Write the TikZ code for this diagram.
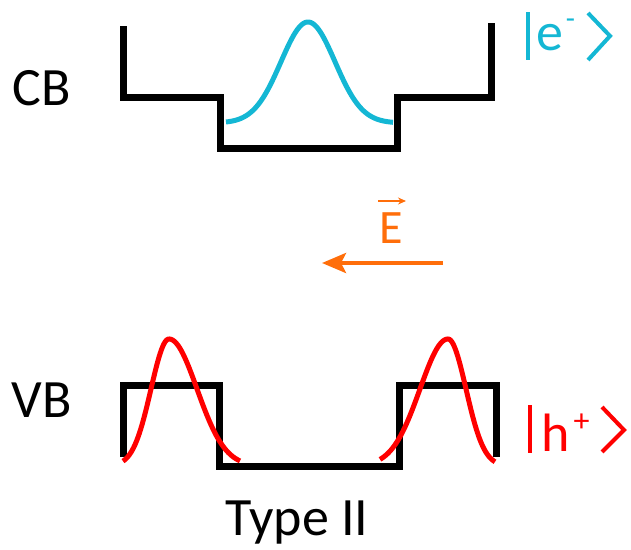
\documentclass[tikz,border=0pt]{standalone}
\usepackage{fontspec}
\setmainfont{Carlito}
\usetikzlibrary{arrows.meta}
\definecolor{ecyan}{RGB}{20,183,212}
\definecolor{eorange}{RGB}{255,110,10}
\definecolor{hred}{RGB}{255,0,0}
\begin{document}
\begin{tikzpicture}[x=1pt,y=-1pt,
  well/.style={line width=7pt, line join=miter, line cap=butt},
  wave/.style={line width=5pt},
  lbl/.style={inner sep=0pt, anchor=base, font=\fontsize{54}{60}\selectfont},
  supl/.style={inner sep=0pt, anchor=base},
  ketbar/.style={line width=3.2pt},
  ketang/.style={line width=4pt, line join=miter}]
\useasboundingbox (0,0) rectangle (631,549);

% ---------- conduction band ----------
\draw[well] (123,26) -- (123,97) -- (220,97) -- (220,148) -- (397,148) -- (397,97) -- (491,97) -- (491,23);
\draw[wave, ecyan] plot[domain=226:393, samples=120, smooth] (\x, {123-101*exp(-((\x-308)/27)^2/2)});

% ---------- valence band ----------
\draw[well] (123,457) -- (123,385) -- (219,385) -- (219,466) -- (399,466) -- (399,385) -- (496,385) -- (496,457);
\draw[wave, hred] plot[domain=123:240, samples=140, smooth]
  (\x, {\x<169 ? 466-127*exp(-((\x-169)/18)^2/2) : 466-127*exp(-((\x-169)/28)^2/2)});
\draw[wave, hred] plot[domain=380:495, samples=140, smooth]
  (\x, {\x<448 ? 466-127*exp(-((\x-448)/28)^2/2) : 466-127*exp(-((\x-448)/18)^2/2)});

% ---------- labels ----------
\node[lbl] (cb) at (42,105) {CB};
\node[lbl] (vb) at (42,417) {VB};
\node[lbl] (type) at (297,535) {Type II};

% ---------- electron ket ----------
\coordinate (eb1) at (528,12);
\coordinate (eb2) at (528,60);
\draw[ketbar, ecyan] (eb1) -- (eb2);
\node[lbl, text=ecyan] (e) at (550,50) {e};
\node[supl, text=ecyan, font=\fontsize{30}{30}\selectfont] (em) at (570.5,28) {-};
\coordinate (ea1) at (588,13);
\coordinate (ea2) at (610,36);
\coordinate (ea3) at (588,60);
\draw[ketang, ecyan] (ea1) -- (ea2) -- (ea3);

% ---------- hole ket ----------
\coordinate (hb1) at (530,405);
\coordinate (hb2) at (530,453);
\draw[ketbar, hred] (hb1) -- (hb2);
\node[lbl, text=hred] (h) at (556,451) {h};
\node[supl, text=hred, font=\fontsize{32}{32}\selectfont] (hp) at (581.5,431) {+};
\coordinate (ha1) at (602,407);
\coordinate (ha2) at (624,430);
\coordinate (ha3) at (602,452);
\draw[ketang, hred] (ha1) -- (ha2) -- (ha3);

% ---------- electric field ----------
\node[lbl, text=eorange, font=\fontsize{48}{50}\selectfont] (E) at (391,243) {E};
\coordinate (ev1) at (378,201);
\coordinate (ev2) at (406,201);
\draw[eorange, line width=2pt, -{Stealth[length=8pt,width=7pt]}] (ev1) -- (ev2);
\coordinate (fa1) at (443,263);
\coordinate (fa2) at (322,263);
\draw[eorange, line width=4pt, -{Stealth[length=24pt,width=20pt,inset=5pt]}] (fa1) -- (fa2);
\end{tikzpicture}
\end{document}
